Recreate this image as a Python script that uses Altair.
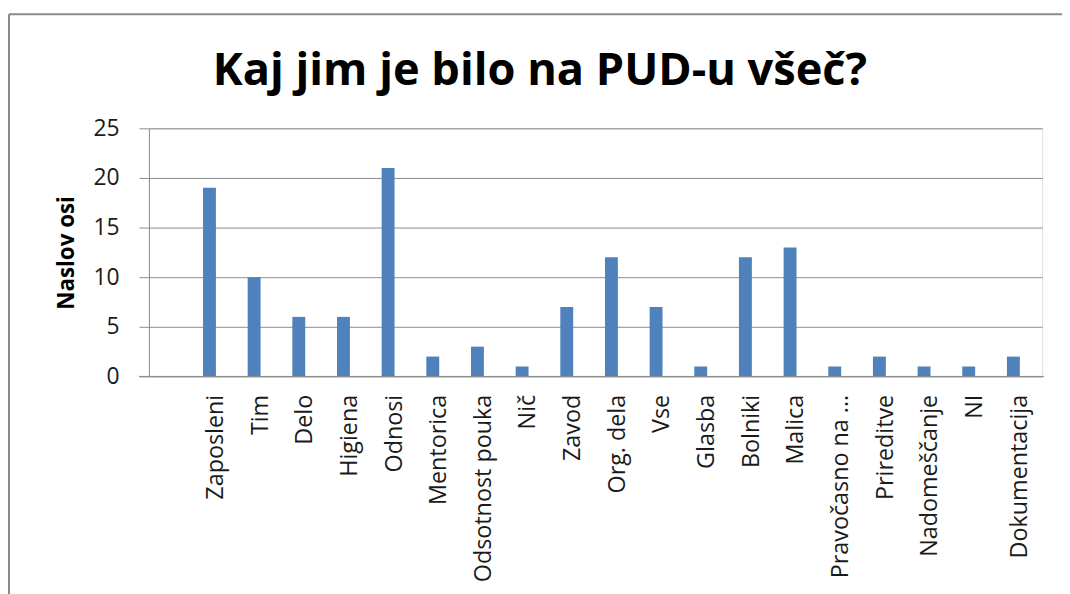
import altair as alt
import pandas as pd

categories = ["Zaposleni", "Tim", "Delo", "Higiena", "Odnosi", "Mentorica",
              "Odsotnost pouka", "Nič", "Zavod", "Org. dela", "Vse", "Glasba",
              "Bolniki", "Malica", "Pravočasno na ...", "Prireditve",
              "Nadomeščanje", "NI", "Dokumentacija"]
values = [19, 10, 6, 6, 21, 2, 3, 1, 7, 12, 7, 1, 12, 13, 1, 2, 1, 1, 2]
y_ticks = [0, 5, 10, 15, 20, 25]
title_text = "Kaj jim je bilo na PUD-u všeč?"

df = pd.DataFrame({"cat": categories, "val": values})
domain = [" "] + categories

FONT = "Open Sans"
TXT = "#1a1a1a"
GRID = "#8c8c8c"

bars = alt.Chart(df).mark_bar(color="#4F81BD", width=13, xOffset=-6.5).encode(
    x=alt.X("cat:N", sort=domain,
            scale=alt.Scale(domain=domain, paddingInner=0, paddingOuter=0),
            axis=alt.Axis(title=None, labelAngle=-90, labelAlign="right",
                          labelBaseline="middle", labelPadding=18,
                          ticks=False, tickSize=0, domain=False, grid=False,
                          labelFont=FONT, labelFontSize=23.5, labelColor=TXT,
                          labelLimit=400)),
    y=alt.Y("val:Q", scale=alt.Scale(domain=[0, 25], nice=False),
            axis=alt.Axis(title="Naslov osi", values=y_ticks, grid=True,
                          gridColor=GRID, gridWidth=1,
                          tickColor=GRID, tickSize=10, tickWidth=1,
                          domainColor=GRID, domainWidth=1,
                          labelPadding=20, labelFont=FONT, labelFontSize=23,
                          labelColor=TXT,
                          titleFont=FONT, titleFontSize=22.5, titleFontWeight="bold",
                          titleColor="#000000", titleX=-83, titleY=125,
                          titleAlign="center", titleBaseline="middle",
                          titleAngle=-90)),
)

frame = alt.Data(values=[{"t": title_text}])
title = alt.Chart(frame).mark_text(font=FONT, fontSize=45.5, fontWeight="bold",
                                   color="#000000", align="center",
                                   baseline="alphabetic").encode(
    text="t:N", x=alt.value(394), y=alt.value(-44))
left_line = alt.Chart(frame).mark_rule(color="#8a8a8a", strokeWidth=2).encode(
    x=alt.value(-141), y=alt.value(-115), y2=alt.value(470))
top_line = alt.Chart(frame).mark_rule(color="#8a8a8a", strokeWidth=2).encode(
    x=alt.value(-141), x2=alt.value(925), y=alt.value(-115))
bottom_line = alt.Chart(frame).mark_rule(color=GRID, strokeWidth=1).encode(
    x=alt.value(-10), x2=alt.value(902), y=alt.value(250))

chart = alt.layer(bars, bottom_line, left_line, top_line, title).properties(
    width=900, height=250,
    padding={"left": 142, "top": 119, "right": 20, "bottom": 217},
    autosize=alt.AutoSizeParams(type="none"),
).configure_view(stroke=None).configure(background="white")

chart.save("out.html", embed_options={"renderer": "svg", "actions": False})
